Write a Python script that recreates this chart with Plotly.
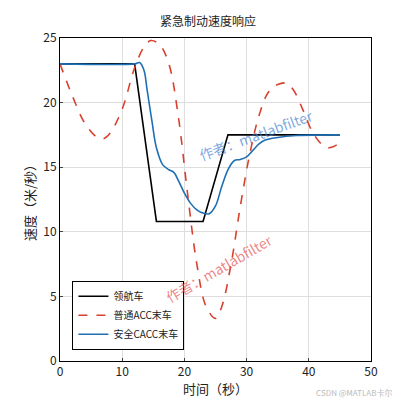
import plotly.graph_objects as go

# 领航车
lead_t = [0, 12, 15.5, 23, 27, 45]
lead_v = [23, 23, 10.8, 10.8, 17.5, 17.5]

# 普通ACC末车
acc_t = [0, 2, 4, 6, 7, 8, 10, 12, 13.5, 14.6, 16, 17.5, 19, 20.5, 22, 23.5, 25, 26, 27.5,
         29, 30.5, 32, 33.5, 35, 36.4, 37.5, 39, 40.5, 42, 43, 44, 45]
acc_v = [23, 20.5, 18.4, 17.3, 17.2, 17.6, 19.5, 22.7, 24.3, 24.8, 24.5, 23, 19, 13, 7.5, 4.2,
         3.3, 4.2, 7.5, 12, 16, 19, 20.8, 21.4, 21.5, 21, 19.5, 17.8, 16.8, 16.5, 16.6, 16.9]

# 安全CACC末车
cacc_t = [0, 12, 12.8, 13.5, 14, 14.8, 15.5, 16.5, 17.5, 18.3, 19, 20, 21, 22, 23, 24, 25, 26,
          27, 28, 29, 30, 31, 32, 33, 35, 38, 45]
cacc_v = [23, 23, 23.1, 22.5, 21, 18.5, 16.5, 15.2, 14.8, 14.6, 14, 13, 12.2, 11.7, 11.45, 11.4,
          12, 13.5, 14.8, 15.5, 15.6, 15.8, 16.3, 16.8, 17.1, 17.3, 17.45, 17.5]

fig = go.Figure()
fig.add_trace(go.Scatter(x=lead_t, y=lead_v, mode='lines', name='领航车',
                         line=dict(color='black', width=1.6)))
fig.add_trace(go.Scatter(x=acc_t, y=acc_v, mode='lines', name='普通ACC末车',
                         line=dict(color='#d9412e', width=1.6, dash='dash', shape='spline')))
fig.add_trace(go.Scatter(x=cacc_t, y=cacc_v, mode='lines', name='安全CACC末车',
                         line=dict(color='#1f6fb4', width=1.6, shape='spline')))

axis = dict(showgrid=True, gridcolor='#dedede', showline=True, mirror=True, linecolor='black',
            linewidth=1, ticks='inside', ticklen=3, zeroline=False, automargin=False,
            tickfont=dict(size=12, color='#222'))
fig.update_layout(
    width=400, height=400,
    margin=dict(l=52, r=37, t=30, b=47, autoexpand=False),
    paper_bgcolor='white', plot_bgcolor='white',
    font=dict(family='Noto Sans CJK SC', color='#222'),
    title=dict(text='紧急制动速度响应', x=0.5, xanchor='center', y=0.975, font=dict(size=12)),
    xaxis=dict(axis, range=[0, 50], dtick=10, title=dict(text='时间（秒）', font=dict(size=13), standoff=4)),
    yaxis=dict(axis, range=[0, 25], dtick=5, title=dict(text='速度（米/秒）', font=dict(size=13), standoff=4)),
    legend=dict(x=0.04, y=0.035, xanchor='left', yanchor='bottom', bgcolor='white',
                bordercolor='black', borderwidth=1, font=dict(size=10), tracegroupgap=0,
                itemwidth=30),
    showlegend=True,
)
fig.add_annotation(text='作者：matlabfilter', xref='paper', yref='paper', x=0.83, y=0.8,
                   showarrow=False, textangle=-20, font=dict(size=14, color='rgba(70,130,210,0.7)'))
fig.add_annotation(text='作者：matlabfilter', xref='paper', yref='paper', x=0.32, y=0.16,
                   showarrow=False, textangle=-30, font=dict(size=14, color='rgba(230,80,80,0.7)'))
fig.add_annotation(text='CSDN @MATLAB卡尔曼', xref='paper', yref='paper', x=1.1, y=-0.12,
                   xanchor='right', showarrow=False, font=dict(size=8, color='#bbbbbb'))

fig.write_html("out.html")
